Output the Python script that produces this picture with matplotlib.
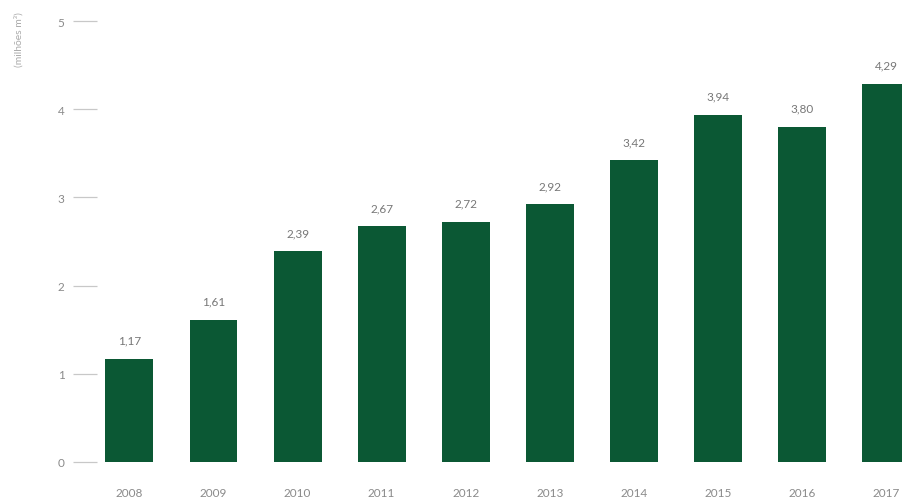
import matplotlib.pyplot as plt

years = ['2008', '2009', '2010', '2011', '2012', '2013', '2014', '2015', '2016', '2017']
volumes = [1.17, 1.61, 2.39, 2.67, 2.72, 2.92, 3.42, 3.94, 3.80, 4.29]
y_ticks = [0, 1, 2, 3, 4, 5]

GREEN = '#0b5834'
GREY = '#8a8a8a'

plt.rcParams['font.family'] = ['Lato', 'DejaVu Sans']

fig = plt.figure(figsize=(9.03, 5.02), dpi=100)
ax = fig.add_axes([0.107, 0.078, 0.893, 0.878])

pos = range(len(years))
ax.bar(pos, volumes, width=0.57, color=GREEN)

for x, v in zip(pos, volumes):
    ax.text(x, v + 0.15, f'{v:.2f}'.replace('.', ','), ha='center', va='bottom',
            fontsize=8.5, color='#777777')

ax.set_xlim(-0.39, 9.2)
ax.set_ylim(0, 5)
ax.set_yticks(y_ticks)
ax.set_yticklabels([str(t) for t in y_ticks])
ax.set_xticks(list(pos))
ax.set_xticklabels(years)

ax.tick_params(axis='y', length=17, width=0.9, color='#c8c8c8', pad=6,
               labelsize=8.5, labelcolor=GREY)
ax.tick_params(axis='x', length=0, pad=18, labelsize=8.5, labelcolor=GREY)

for s in ax.spines.values():
    s.set_visible(False)

fig.text(0.021, 0.975, '(milhões m³)', rotation=90, ha='center', va='top',
         fontsize=7.5, color='#aaaaaa')

fig.savefig('out.png', dpi=100)
